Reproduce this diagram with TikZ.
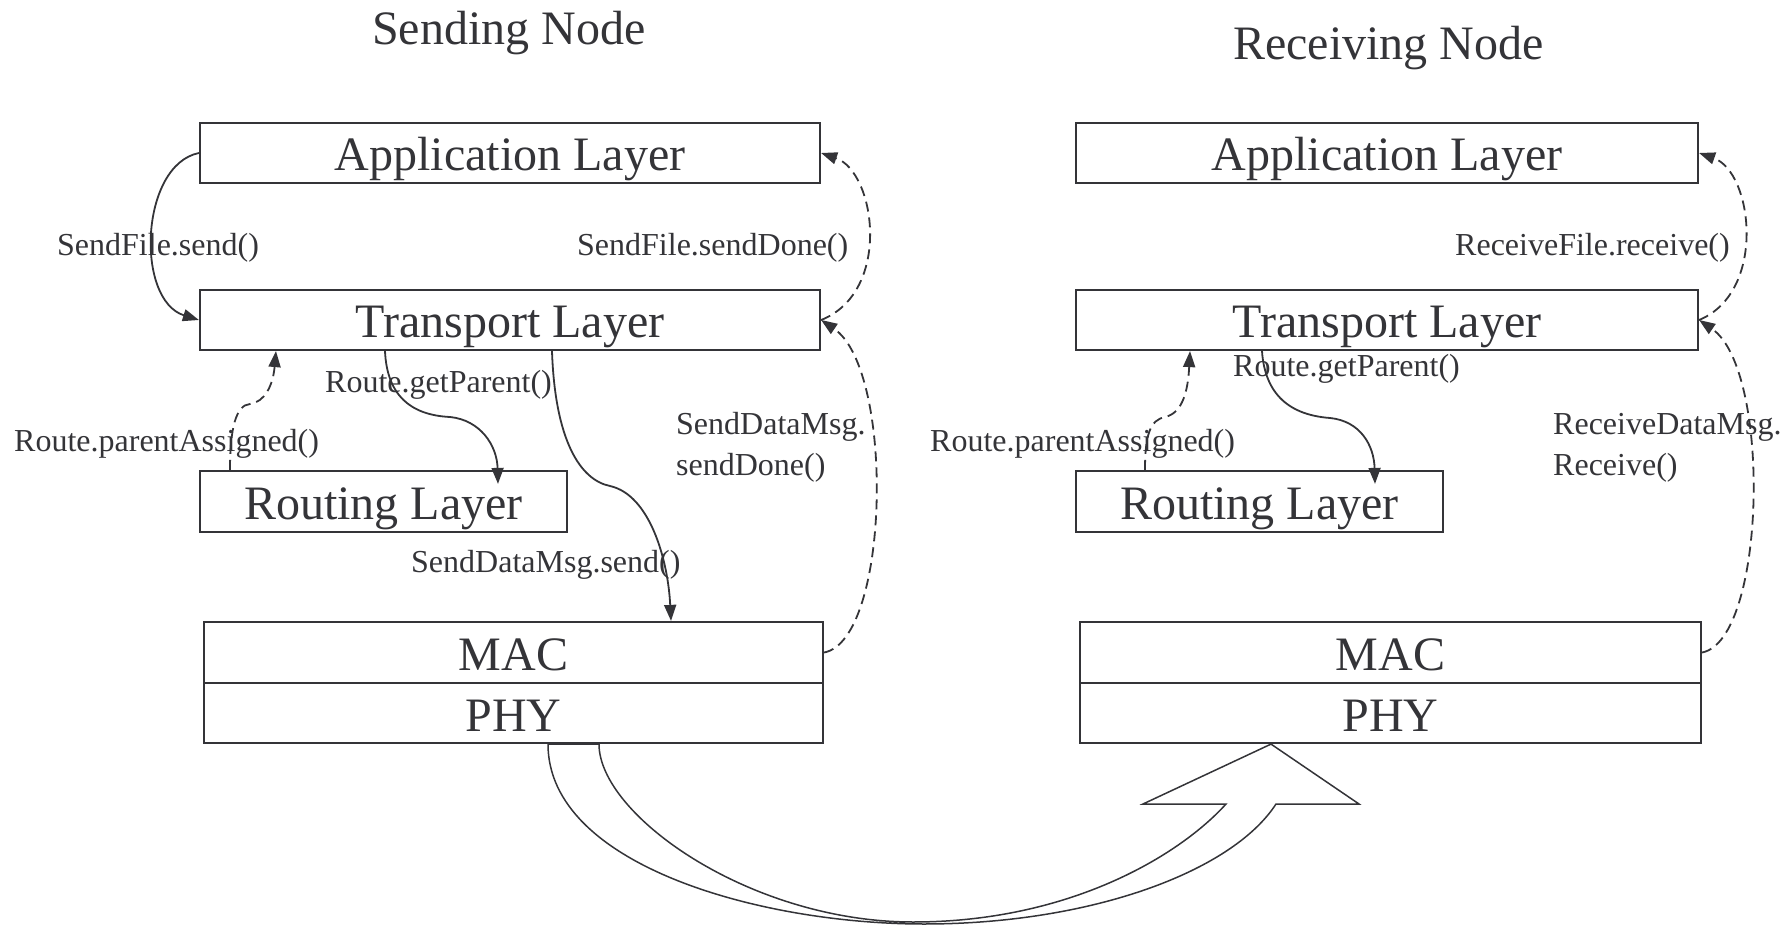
\documentclass[tikz,border=0pt]{standalone}
\usepackage{fontspec}
\setmainfont{Liberation Serif}
\usetikzlibrary{arrows.meta,calc}
\definecolor{ink}{RGB}{52,52,56}
\begin{document}
\begin{tikzpicture}[x=1pt,y=-1pt,
  layerbox/.style={draw=ink, line width=2.2pt, rectangle, inner sep=0pt,
    text height=36pt, text depth=0pt, text=ink,
    font=\fontsize{48}{58}\selectfont},
  lbl/.style={anchor=base west, inner sep=0pt, text=ink, font=\fontsize{32}{38}\selectfont},
  ttl/.style={anchor=base west, inner sep=0pt, text=ink, font=\fontsize{48}{58}\selectfont},
  callarrow/.style={draw=ink, line width=1.8pt, -{Triangle[length=16pt,width=12pt]}},
  retarrow/.style={callarrow, dash pattern=on 10pt off 6pt},
  bigarrow/.style={draw=ink, line width=1.5pt, line join=miter},
]
\useasboundingbox (0,0) rectangle (1792,925);

% titles
\node[ttl] (tS) at (372,45) {Sending Node};
\node[ttl] (tR) at (1233,60) {Receiving Node};

% sending node layers
\node[layerbox, minimum width=620pt, minimum height=60pt] (appL) at (510,153) {Application Layer};
\node[layerbox, minimum width=620pt, minimum height=60pt] (trL) at (510,320) {Transport Layer};
\node[layerbox, minimum width=367pt, minimum height=61pt] (rtL) at (383.5,501.5) {Routing Layer};
\node[layerbox, minimum width=619pt, minimum height=61pt] (macL) at (513.5,652.5) {MAC};
\node[layerbox, minimum width=619pt, minimum height=60pt] (phyL) at (513.5,713) {PHY};

% receiving node layers
\node[layerbox, minimum width=622pt, minimum height=60pt] (appR) at (1387,153) {Application Layer};
\node[layerbox, minimum width=622pt, minimum height=60pt] (trR) at (1387,320) {Transport Layer};
\node[layerbox, minimum width=367pt, minimum height=61pt] (rtR) at (1259.5,501.5) {Routing Layer};
\node[layerbox, minimum width=621pt, minimum height=61pt] (macR) at (1390.5,652.5) {MAC};
\node[layerbox, minimum width=621pt, minimum height=60pt] (phyR) at (1390.5,713) {PHY};

% labels, sending side
\node[lbl] (l1) at (57,256) {SendFile.send()};
\node[lbl] (l2) at (577,256) {SendFile.sendDone()};
\node[lbl] (l3) at (325,392) {Route.getParent()};
\node[lbl] (l4) at (14,451) {Route.parentAssigned()};
\node[lbl] (l5a) at (676,435) {SendDataMsg.};
\node[lbl] (l5b) at (676,475) {sendDone()};
\node[lbl] (l6) at (411,572) {SendDataMsg.send()};

% labels, receiving side
\node[lbl] (r1) at (1455,256) {ReceiveFile.receive()};
\node[lbl] (r3) at (1233,377) {Route.getParent()};
\node[lbl] (r4) at (930,451) {Route.parentAssigned()};
\node[lbl] (r5a) at (1553,435) {ReceiveDataMsg.};
\node[lbl] (r5b) at (1553,475) {Receive()};

% sending side connectors
\draw[callarrow] (appL.west) .. controls (140,165) and (135,300) .. (trL.west);
\draw[retarrow] (trL.east) .. controls (892,292) and (876,172) .. (appL.east);
\draw[retarrow] (macL.east) .. controls (890,640) and (895,370) .. (trL.east);
\draw[callarrow] (385,0 |- trL.south) .. controls (387,395) and (410,415) .. (450,417)
  .. controls (480,420) and (497,445) .. ($(498,0 |- rtL.north)+(0,14)$);
\draw[retarrow] (230,0 |- rtL.north) .. controls (230,428) and (236,405) .. (250,404)
  .. controls (265,402) and (273,385) .. (276,0 |- trL.south);
\draw[callarrow] (552,0 |- trL.south) .. controls (555,440) and (580,480) .. (610,486)
  .. controls (650,495) and (668,560) .. (671,0 |- macL.north);

% receiving side connectors
\draw[retarrow] (trR.east) .. controls (1767,292) and (1753,172) .. (appR.east);
\draw[retarrow] (macR.east) .. controls (1766,640) and (1772,370) .. (trR.east);
\draw[callarrow] (1262,0 |- trR.south) .. controls (1265,395) and (1290,415) .. (1330,418)
  .. controls (1360,421) and (1374,445) .. ($(1375,0 |- rtR.north)+(0,14)$);
\draw[retarrow] (1145,0 |- rtR.north) .. controls (1145,435) and (1150,420) .. (1165,417)
  .. controls (1183,413) and (1188,390) .. (1190,0 |- trR.south);

% big curved arrow from PHY to PHY
\draw[bigarrow] (548,0 |- phyL.south) .. controls (548,865) and (760,924) .. (924,924)
  .. controls (1090,924) and (1232,872) .. (1276,804) -- (1359,804)
  -- (1271,0 |- phyR.south) -- (1143,804) -- (1226,804)
  .. controls (1180,855) and (1070,922) .. (913,922)
  .. controls (750,922) and (599,815) .. (599,0 |- phyL.south) -- cycle;
\end{tikzpicture}
\end{document}
